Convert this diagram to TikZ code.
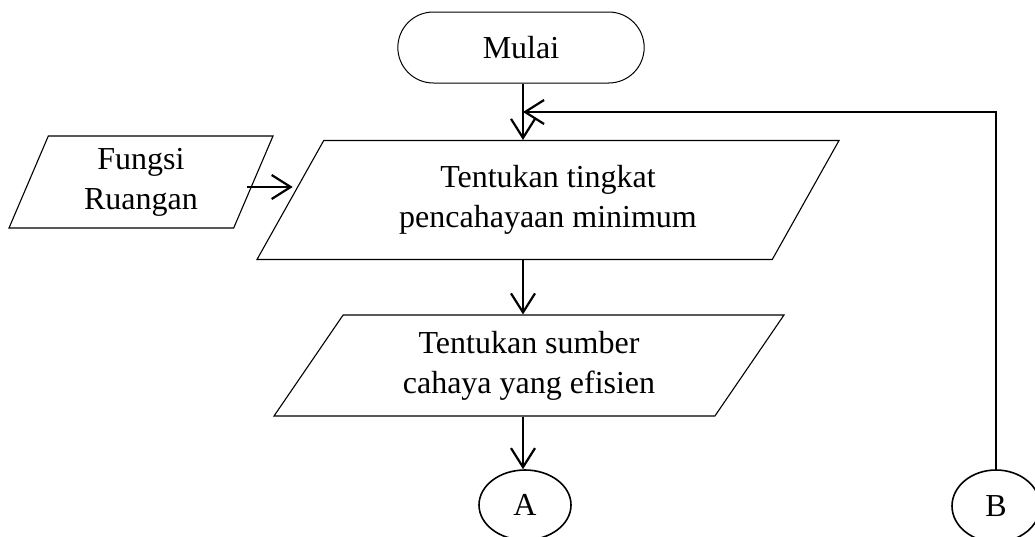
\documentclass[tikz,border=0pt]{standalone}
\usepackage{fontspec}
\setmainfont{Liberation Serif}
\usetikzlibrary{positioning,shapes.geometric,shapes.misc,arrows.meta}

\begin{document}
\begin{tikzpicture}[x=1pt,y=-1pt,
    font=\fontsize{32pt}{40pt}\selectfont,
    terminal/.style={draw,rounded rectangle,line width=1pt,minimum width=253pt,minimum height=71pt},
    iobox/.style={draw,trapezium,trapezium stretches body,line width=1.1pt,align=center,inner sep=0pt},
    connector/.style={draw,ellipse,line width=1.6pt,inner sep=0pt},
    flow/.style={line width=2.2pt,-{Straight Barb[length=19pt,width=24pt,line width=2.2pt]}}]
          \useasboundingbox (0,0) rectangle (1035,536);
          \node[terminal] (mulai) at (521,47.5) {Mulai};
          \node[iobox,trapezium left angle=60,trapezium right angle=120,minimum width=264pt,minimum height=92pt] (fungsi) at (141,182) {Fungsi\\Ruangan};
          \node[iobox,trapezium left angle=46,trapezium right angle=134,minimum width=582pt,minimum height=119pt] (tingkat) at (548,200) {Tentukan tingkat\\pencahayaan minimum};
          \node[iobox,trapezium left angle=45,trapezium right angle=135,minimum width=510pt,minimum height=101pt] (sumber) at (529,365.5) {Tentukan sumber\\cahaya yang efisien};
          \node[connector,minimum width=92pt,minimum height=70pt] (conA) at (525,505) {A};
          \node[connector,minimum width=88pt,minimum height=72pt] (conB) at (996,506) {B};
          \coordinate (join) at (523,112);
          \draw[flow] (mulai.south -| join) -- (join |- tingkat.north);
          \draw[flow] (join |- tingkat.south) -- (join |- sumber.north);
          \draw[flow] (join |- sumber.south) -- (join |- conA.north);
          \draw[flow] (conB.north) |- (join);
          \draw[flow] ([xshift=-7pt,yshift=-5pt]fungsi.east) -- ([xshift=3pt,yshift=-5pt]fungsi.east -| tingkat.west);
    \end{tikzpicture}
\end{document}
